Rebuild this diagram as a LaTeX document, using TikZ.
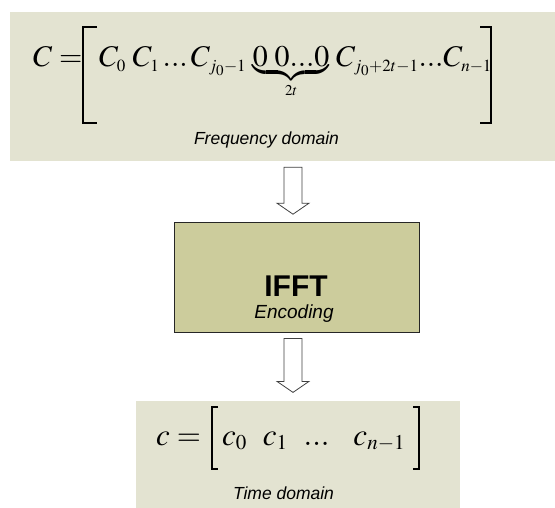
\documentclass[tikz,border=0pt]{standalone}
\usepackage{mathptmx}
\usepackage{fontspec}
\setmainfont{Liberation Sans}
\usetikzlibrary{calc, positioning}
\DeclareMathSizes{30}{30}{17}{15}
\DeclareMathSizes{31}{31}{21}{15}
\tikzset{
    panel/.style={fill=#1, draw=none, inner sep=0pt},
    eqtext/.style={font=\fontsize{30}{36}\selectfont, inner sep=0pt, anchor=base west},
    domaintext/.style={font=\itshape\fontsize{17.5}{20}\selectfont, inner sep=0pt},
    bracket/.style={draw=black, line width=1.8pt}
}

\begin{document}
\begin{tikzpicture}[x=1pt, y=-1pt]
\def\hollowdown#1#2{\draw[fill=white, draw=black!75, line width=0.8pt] (#1) ++(-9,0) -- ++(0,#2) -- ++(-7,0) -- ++(16,11) -- ++(16,-11) -- ++(-7,0) -- ++(0,-#2) -- cycle;}
\definecolor{paleolive}{RGB}{227,227,209}
\definecolor{olivebox}{RGB}{204,204,156}

\useasboundingbox (0,0) rectangle (555,508);

\node[panel=paleolive, minimum width=545pt, minimum height=149pt] (freqbox) at (282.5,86.5) {};
\node[panel=olivebox, draw=black!85, line width=0.8pt, minimum width=245pt, minimum height=110pt] (ifftbox) at (296.5,277) {};
\node[panel=paleolive, minimum width=324pt, minimum height=107pt] (timebox) at (298,454.5) {};

% frequency domain vector
\node[eqtext] (freqlhs) at (33,67) {$C=$};
\node[eqtext] (freqvec) at (99,67) {$C_0\;C_1\,...\,C_{j_0-1}\,\underbrace{0\;0...0}_{\scriptscriptstyle 2t}\,C_{j_0+2t-1}...C_{n-1}$};
\draw[bracket] (97,27) -- (83,27) -- (83,123) -- (97,123);
\draw[bracket] (480,27) -- (491,27) -- (491,123) -- (480,123);
\node[domaintext] (freqlabel) at (266.5,140) {Frequency domain};

\node[font=\bfseries\fontsize{30}{32}\selectfont, inner sep=0pt] (ifft) at (296,286) {IFFT};
\node[font=\itshape\fontsize{19}{22}\selectfont, inner sep=0pt] (enc) at (294,314) {Encoding};

% time domain vector
\node[eqtext, font=\fontsize{31}{36}\selectfont] (timelhs) at (156,445) {$c=$};
\node[eqtext, font=\fontsize{31}{36}\selectfont] (timevec) at (222,445) {$c_0\hspace{16pt}c_1\hspace{16pt}...\hspace{24pt}c_{n-1}$};
\draw[bracket] (218,407) -- (212,407) -- (212,469) -- (218,469);
\draw[bracket] (413,407) -- (419,407) -- (419,469) -- (413,469);
\node[domaintext] (timelabel) at (283.5,493) {Time domain};

% block arrows between the panels
\coordinate[yshift=-6pt] (arrtopi) at (freqbox.south -| 293,0);
\coordinate[yshift=-6pt] (arrtopii) at (ifftbox.south -| 293,0);
\hollowdown{arrtopi}{36}
\hollowdown{arrtopii}{43}
\end{tikzpicture}
\end{document}
